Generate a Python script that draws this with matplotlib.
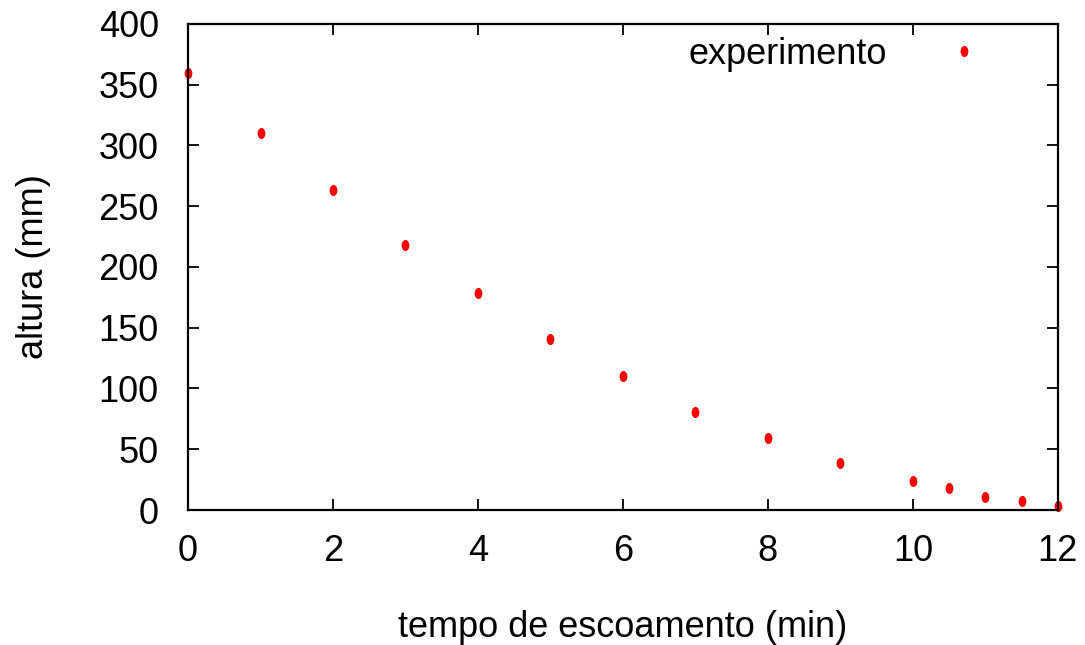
import matplotlib.pyplot as plt
import numpy as np
from matplotlib.path import Path

# tempo (min) e altura (mm)
tempo = [0, 1, 2, 3, 4, 5, 6, 7, 8, 9, 10, 10.5, 11, 11.5, 12]
altura = [360, 310, 263, 218, 179, 141, 110, 81, 59, 39, 24, 18, 11, 7, 3]

plt.rcParams['font.family'] = ['Liberation Sans', 'DejaVu Sans']

# marcador eliptico (estilo gnuplot)
circ = Path.unit_circle()
ellipse = Path(circ.vertices * np.array([0.7, 1.0]), circ.codes)

fig = plt.figure(figsize=(10.85, 6.45), dpi=100)
ax = fig.add_axes([0.1733, 0.2093, 0.8017, 0.7535])

ax.plot(tempo, altura, linestyle='none', marker=ellipse, markersize=8,
        color='#ff0000', markeredgewidth=0, clip_on=False, label='experimento')

ax.set_xlim(0, 12)
ax.set_ylim(0, 400)
ax.set_xticks(range(0, 13, 2))
ax.set_yticks(range(0, 401, 50))
ax.tick_params(direction='in', length=8, width=1.3, top=True, right=True,
               labelsize=26)
ax.tick_params(axis='x', pad=17)
ax.tick_params(axis='y', pad=21)
for s in ax.spines.values():
    s.set_linewidth(1.6)

ax.set_xlabel('tempo de escoamento (min)', fontsize=26, labelpad=30)
ax.set_ylabel('altura (mm)', fontsize=26, labelpad=34)

ax.legend(loc='upper right', frameon=False, markerfirst=False, fontsize=26,
          handletextpad=1.13, borderaxespad=0.2, bbox_to_anchor=(0.958, 1.018))

fig.savefig('out.png')
